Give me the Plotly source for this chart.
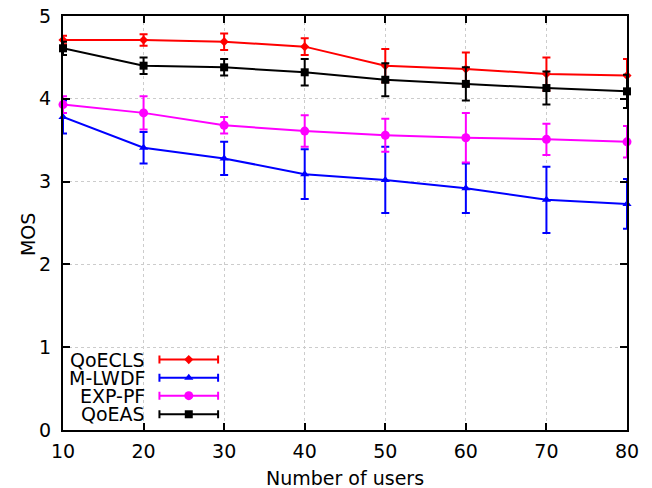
import plotly.graph_objects as go

users = [10, 20, 30, 40, 50, 60, 70, 80]

qoecls = [4.71, 4.71, 4.69, 4.63, 4.40, 4.36, 4.30, 4.28]
qoecls_err = [0.05, 0.07, 0.10, 0.10, 0.20, 0.20, 0.20, 0.20]

mlwdf = [3.78, 3.41, 3.28, 3.09, 3.02, 2.92, 2.78, 2.73]
mlwdf_err = [0.20, 0.19, 0.20, 0.30, 0.40, 0.30, 0.40, 0.30]

exppf = [3.93, 3.83, 3.68, 3.61, 3.56, 3.53, 3.51, 3.48]
exppf_err = [0.10, 0.20, 0.10, 0.19, 0.20, 0.30, 0.19, 0.19]

qoeas = [4.61, 4.40, 4.38, 4.32, 4.23, 4.18, 4.13, 4.09]
qoeas_err = [0.08, 0.10, 0.10, 0.16, 0.20, 0.20, 0.20, 0.20]

series = [
    ("QoECLS", qoecls, qoecls_err, "#ff0000", "diamond", 7),
    ("M-LWDF", mlwdf, mlwdf_err, "#0000ff", "triangle-up", 8),
    ("EXP-PF", exppf, exppf_err, "#ff00ff", "circle", 9),
    ("QoEAS", qoeas, qoeas_err, "#000000", "square", 8),
]

FONT = "DejaVu Sans"
FS = 19
fig = go.Figure()

for name, vals, errs, col, sym, ms in series:
    fig.add_trace(go.Scatter(
        x=users, y=vals, mode="lines+markers", name=name,
        line=dict(color=col, width=2),
        marker=dict(color=col, symbol=sym, size=ms),
        error_y=dict(type="data", array=errs, visible=True, color=col,
                     thickness=2, width=4),
        showlegend=False, cliponaxis=False,
    ))

# custom legend (text left of sample), on an overlay axis in [0,1]
leg_y = [0.170, 0.126, 0.083, 0.038]
for (name, vals, errs, col, sym, ms), ly in zip(series, leg_y):
    fig.add_trace(go.Scatter(
        x=[0.223], y=[ly], mode="markers", xaxis="x2", yaxis="y2",
        marker=dict(color=col, symbol=sym, size=ms),
        error_x=dict(type="constant", value=0.052, visible=True, color=col,
                     thickness=2, width=4),
        showlegend=False, hoverinfo="skip",
    ))
    fig.add_annotation(x=0.148, y=ly, xref="x2", yref="y2", text=name,
                       showarrow=False, xanchor="right", yanchor="middle",
                       borderpad=0,
                       font=dict(family=FONT, size=FS, color="#000000"))

fig.add_annotation(x=0.5, y=-0.117, xref="paper", yref="paper",
                   text="Number of users", showarrow=False,
                   xanchor="center", yanchor="middle", borderpad=0,
                   font=dict(family=FONT, size=FS, color="#000000"))
fig.add_annotation(x=-0.062, y=0.471, xref="paper", yref="paper",
                   text="MOS", showarrow=False, textangle=-90,
                   xanchor="center", yanchor="middle",
                   font=dict(family=FONT, size=FS, color="#000000"))

axis_common = dict(
    showline=True, linecolor="#000000", linewidth=2, mirror="ticks",
    ticks="inside", ticklen=7, tickwidth=2, tickcolor="#000000",
    showgrid=True, gridcolor="#cccccc", griddash="dot", gridwidth=1,
    zeroline=False, automargin=False, ticklabeloverflow="allow",
    tickfont=dict(family=FONT, size=FS, color="#000000"),
)

# page body has an 8px default margin, so the figure is sized to fit the window
fig.update_layout(
    width=644, height=480, autosize=False,
    margin=dict(l=55, r=25, t=8, b=58, autoexpand=False),
    paper_bgcolor="white", plot_bgcolor="white",
    xaxis=dict(range=[10, 80], tickvals=users, ticklabelstandoff=3, **axis_common),
    yaxis=dict(range=[0, 5], tickvals=[0, 1, 2, 3, 4, 5], ticklabelstandoff=6, **axis_common),
    xaxis2=dict(range=[0, 1], overlaying="x", visible=False, anchor="y2"),
    yaxis2=dict(range=[0, 1], overlaying="y", visible=False, anchor="x2"),
    font=dict(family=FONT),
)

fig.write_html("out.html")
